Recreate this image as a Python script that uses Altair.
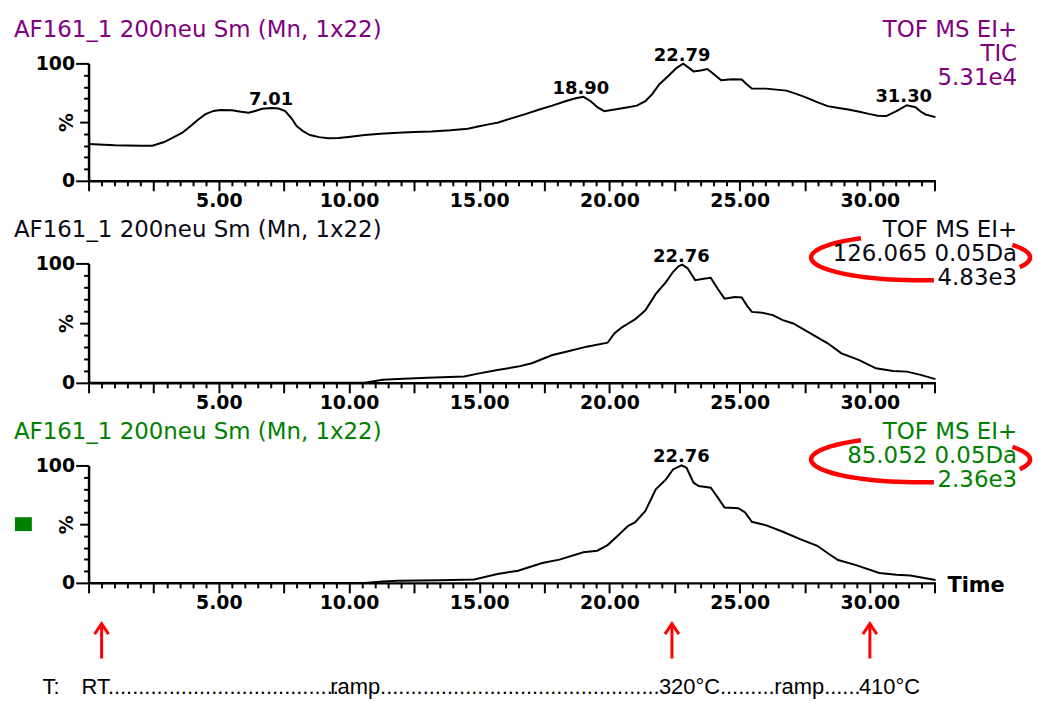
import math
import altair as alt
import pandas as pd

# ---------------- data ----------------
TIME_MAX = 32.52

tic_t = [0.0, 1.0, 2.0, 2.45, 2.9, 3.22, 3.6, 3.92, 4.2, 4.49, 4.8, 5.06, 5.51, 5.85, 6.15, 6.4,
         6.66, 7.04, 7.3, 7.55, 7.8, 7.99, 8.25, 8.5, 8.85, 9.2, 9.6, 9.97, 10.61, 11.2, 11.88,
         12.5, 13.16, 13.9, 14.56, 15.0, 15.45, 15.7, 16.23, 16.8, 17.28, 17.8, 18.34, 18.7,
         19.0, 19.27, 19.55, 19.8, 20.2, 20.72, 21.05, 21.38, 21.65, 21.91, 22.25, 22.57, 22.83,
         23.0, 23.23, 23.5, 23.76, 24.0, 24.29, 24.7, 25.08, 25.28, 25.47, 26.0, 26.8, 27.2,
         27.59, 28.0, 28.38, 28.8, 29.17, 29.6, 29.96, 30.3, 30.63, 31.02, 31.42, 31.75, 31.95,
         32.14, 32.52]
tic_v = [31.4, 30.2, 29.8, 29.9, 33.0, 36.6, 41.0, 46.6, 52.0, 56.8, 59.5, 60.2, 60.0, 58.8, 57.9,
         59.5, 61.3, 62.1, 61.5, 59.3, 53.0, 46.6, 42.0, 39.0, 37.2, 36.2, 36.5, 37.3, 39.0, 40.0,
         40.9, 41.5, 42.0, 43.0, 44.3, 46.5, 48.5, 49.4, 53.2, 57.0, 60.5, 64.0, 68.0, 70.3, 71.5,
         68.0, 62.5, 59.3, 60.8, 62.7, 64.0, 67.8, 74.0, 82.0, 89.0, 96.0, 99.7, 97.0, 93.2, 94.0,
         95.2, 91.0, 85.6, 86.5, 86.2, 82.0, 78.5, 78.5, 76.8, 73.8, 70.6, 66.8, 63.6, 62.0, 60.7,
         58.8, 57.0, 55.5, 55.1, 59.3, 64.4, 62.7, 59.0, 56.5, 54.2]

m126_t = [0.0, 10.6, 11.3, 11.88, 13.0, 14.43, 14.9, 15.7, 16.49, 17.02, 17.81, 18.34, 19.13,
          19.93, 20.19, 20.45, 20.72, 20.98, 21.38, 21.78, 22.17, 22.44, 22.65, 22.8, 23.0, 23.15,
          23.29, 23.62, 23.89, 24.15, 24.42, 24.81, 25.08, 25.3, 25.47, 25.87, 26.27, 26.66,
          27.06, 27.72, 28.38, 28.91, 29.57, 30.23, 30.89, 31.42, 31.95, 32.52]
m126_v = [0.0, 0.0, 2.5, 3.3, 4.3, 5.3, 7.5, 10.8, 13.6, 16.4, 23.3, 26.1, 30.3, 33.6, 41.4, 46.0,
          49.7, 53.1, 60.8, 74.5, 84.4, 92.8, 97.5, 99.0, 96.0, 91.0, 86.0, 87.2, 88.0, 79.0, 70.5,
          71.9, 71.4, 64.0, 59.4, 58.6, 56.7, 52.5, 49.7, 41.4, 33.1, 24.7, 19.2, 12.2, 10.0, 9.4,
          6.7, 3.1]

m85_t = [0.0, 10.6, 11.3, 11.88, 13.5, 14.81, 15.7, 16.49, 17.42, 18.08, 19.0, 19.53, 19.93,
         20.32, 20.72, 20.98, 21.38, 21.78, 22.17, 22.44, 22.77, 22.96, 23.23, 23.43, 23.89,
         24.15, 24.42, 24.95, 25.21, 25.47, 26.0, 26.66, 27.32, 27.98, 28.4, 28.78, 29.44, 30.36,
         31.02, 31.55, 32.52]
m85_v = [0.0, 0.0, 1.2, 1.9, 2.3, 2.8, 7.6, 10.4, 16.9, 19.8, 26.0, 27.4, 32.2, 40.1, 48.6, 51.4,
         61.3, 79.7, 88.1, 96.6, 100.0, 98.0, 85.3, 82.5, 81.1, 73.0, 64.1, 63.6, 59.9, 52.0, 49.2,
         43.5, 37.3, 31.6, 25.0, 19.5, 15.3, 8.5, 7.0, 6.2, 2.5]

tic_peak_t = [7.01, 18.90, 22.79, 31.30]
tic_peak_v = [62.1, 71.5, 99.7, 64.4]
m126_peak_t = [22.76]
m126_peak_v = [99.0]
m85_peak_t = [22.76]
m85_peak_v = [100.0]

panel_title = "AF161_1 200neu Sm (Mn, 1x22)"
tic_info = ["TOF MS EI+", "TIC", "5.31e4"]
m126_info = ["TOF MS EI+", "126.065 0.05Da", "4.83e3"]
m85_info = ["TOF MS EI+", "85.052 0.05Da", "2.36e3"]

arrow_t = [0.5, 22.4, 30.0]
temp_text = ["T:", "RT" + "." * 38, "ramp" + "." * 46, "320°C" + "." * 9, "ramp" + "." * 6, "410°C"]
temp_t = [-1.77, -0.27, 9.28, 21.90, 26.33, 29.58]

x_ticks = [i * 0.5 for i in range(66)]
y_ticks = list(range(0, 101, 10))

# ---------------- styling ----------------
W = 851
PURPLE = "#800080"
GREEN = "#008000"
DARK = "#0a0a14"
RED = "#ff0000"
FONT = "DejaVu Sans"
FONT_ARIAL = "Liberation Sans"

xscale = alt.Scale(domain=[0, TIME_MAX], nice=False, zero=False)
yscale = alt.Scale(domain=[0, 100], nice=False)

xaxis = alt.Axis(
    values=x_ticks,
    labelExpr="datum.value % 5 === 0 && datum.value > 0 ? format(datum.value, '.2f') : ''",
    tickSize={"expr": "datum.value % 2.5 === 0 ? 10 : 5"},
    labelPadding=1, labelOverlap=False, labelFlush=False, labelBound=False,
    grid=False, title=None,
)


def yaxis(h):
    return alt.Axis(
        values=y_ticks,
        labelExpr="datum.value === 0 || datum.value === 100 ? datum.label : ''",
        tickSize={"expr": "datum.value === 0 || datum.value === 100 ? 13 : (datum.value === 50 ? 9 : 5)"},
        labelPadding=1, labelOverlap=False, labelFlush=False,
        grid=False, title="%", titleAngle=270, titleX=-22, titleY=h / 2,
        titleAlign="center", titleBaseline="middle", titleFont=FONT,
        titleFontWeight="bold", titleFontSize=19, titleColor="black",
    )


def ellipse_path(ratio, arcs, n=40):
    parts = []
    for a0, a1 in arcs:
        pts = []
        for k in range(n + 1):
            a = math.radians(a0 + (a1 - a0) * k / n)
            pts.append(f"{math.cos(a):.4f},{ratio * math.sin(a):.4f}")
        parts.append("M" + " L".join(pts))
    return " ".join(parts)


ELLIPSE = ellipse_path(23 / 110, [(83, 237), (-33, 25)])


def panel(t, v, pk_t, pk_v, title_color, info, info_color, h, ellipse=False, bottom=False):
    x_enc = alt.X("t:Q", scale=xscale, axis=xaxis)
    y_enc = alt.Y("v:Q", scale=yscale, axis=yaxis(h))
    df = pd.DataFrame({"t": t, "v": v})
    line = alt.Chart(df).mark_line(color="black", strokeWidth=2).encode(x=x_enc, y=y_enc)

    pk = pd.DataFrame({"t": pk_t, "v": pk_v, "lab": [f"{p:.2f}" for p in pk_t]})
    peaks = alt.Chart(pk).mark_text(
        font=FONT, fontWeight="bold", fontSize=18, baseline="alphabetic", dy=-3, color="black"
    ).encode(x=x_enc, y=y_enc, text="lab:N")

    tdf = pd.DataFrame({"txt": [panel_title]})
    title = alt.Chart(tdf).mark_text(
        font=FONT, fontSize=23, align="left", baseline="alphabetic", color=title_color
    ).encode(x=alt.value(-75), y=alt.value(-27), text="txt:N")

    idf = pd.DataFrame({"k": [0]})
    layers = []
    if ellipse:
        layers.append(
            alt.Chart(idf).mark_point(
                shape=ELLIPSE, size=48400, filled=False, stroke=RED, strokeWidth=4.5, opacity=1
            ).encode(x=alt.value(W - 15), y=alt.value(-6))
        )
    info_mark = alt.Chart(idf).mark_text(
        font=FONT, fontSize=23, align="right", baseline="alphabetic", lineHeight=24.5,
        color=info_color
    ).encode(x=alt.value(W + 82), y=alt.value(-27), text=alt.value(info))

    layers = [line, peaks, title] + layers + [info_mark]

    if bottom:
        sq = alt.Chart(idf).mark_point(
            shape="M-1,-0.82 L1,-0.82 L1,0.82 L-1,0.82 Z", size=289, filled=True,
            color=GREEN, opacity=1
        ).encode(x=alt.value(-65.5), y=alt.value(h / 2))
        time_lab = alt.Chart(idf).mark_text(
            font=FONT, fontWeight="bold", fontSize=21, align="left", baseline="alphabetic",
            color="black"
        ).encode(x=alt.value(W + 12), y=alt.value(h + 9), text=alt.value("Time"))
        adf = pd.DataFrame({"t": arrow_t})
        shafts = alt.Chart(adf).mark_rule(color=RED, strokeWidth=3).encode(
            x=x_enc, y=alt.value(h + 42), y2=alt.value(h + 76)
        )
        heads = alt.Chart(adf).mark_point(
            shape="M-1,1.5 L0,0 L1,1.5", size=196, filled=False, stroke=RED, strokeWidth=3,
            opacity=1
        ).encode(x=x_enc, y=alt.value(h + 41))
        tdf2 = pd.DataFrame({"t": temp_t, "txt": temp_text})
        temps = alt.Chart(tdf2).mark_text(
            font=FONT_ARIAL, fontSize=22, align="left", baseline="alphabetic", color="black"
        ).encode(x=x_enc, y=alt.value(h + 112), text="txt:N")
        layers += [sq, time_lab, shafts, heads, temps]

    return alt.layer(*layers).properties(width=W, height=h)


p1 = panel(tic_t, tic_v, tic_peak_t, tic_peak_v, PURPLE, tic_info, PURPLE, 118)
p2 = panel(m126_t, m126_v, m126_peak_t, m126_peak_v, DARK, m126_info, DARK, 120, ellipse=True)
p3 = panel(m85_t, m85_v, m85_peak_t, m85_peak_v, GREEN, m85_info, GREEN, 118, ellipse=True,
           bottom=True)

chart = alt.vconcat(p1, p2, p3, spacing=83, bounds="flush").properties(
    padding={"left": 14, "top": 17, "right": 0, "bottom": 0}, background="white"
).configure_view(stroke=None).configure_axis(
    domainColor="black", domainWidth=2.5, tickColor="black", tickWidth=2,
    labelColor="black", labelFont=FONT, labelFontWeight="bold", labelFontSize=19,
)

chart.save("out.html", embed_options={"renderer": "svg", "actions": False})
